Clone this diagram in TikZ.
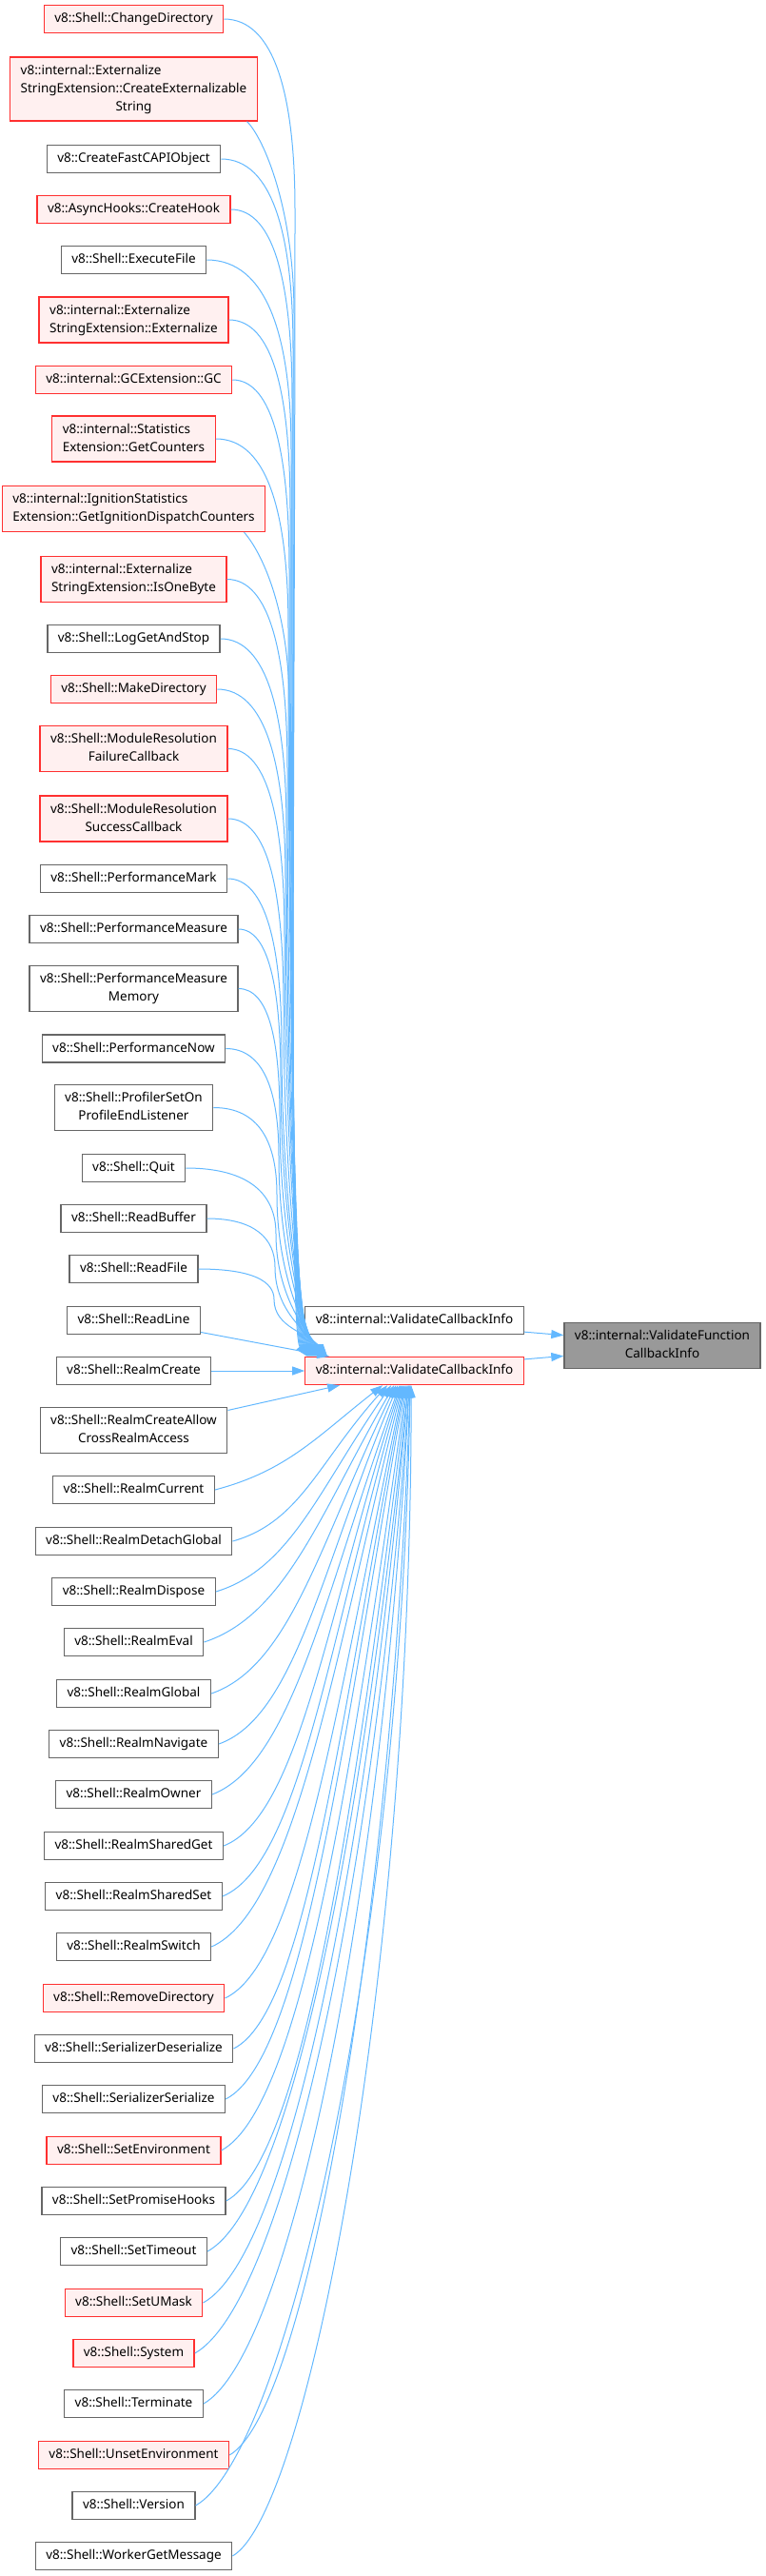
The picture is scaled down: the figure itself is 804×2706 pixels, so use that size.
\documentclass[tikz,border=0pt]{standalone}
\usepackage{fontspec}
\setmainfont{Noto Sans}
\usetikzlibrary{arrows.meta,calc}
\definecolor{edgeblue}{RGB}{99,184,255}
\definecolor{trunc}{RGB}{255,48,48}
\definecolor{truncfill}{RGB}{255,240,240}
\definecolor{bordergray}{RGB}{102,102,102}
\definecolor{curgray}{RGB}{153,153,153}
\newcommand{\twoln}[2]{\begin{tabular}{@{}l@{}}#1\\\multicolumn{1}{@{}c@{}}{#2}\end{tabular}}
\newcommand{\threeln}[3]{\begin{tabular}{@{}l@{}}#1\\#2\\\multicolumn{1}{@{}c@{}}{#3}\end{tabular}}
\begin{document}
\begin{tikzpicture}[x=1pt,y=-1pt,
  box/.style={draw=bordergray, fill=white, line width=1.3pt, inner xsep=11pt, inner ysep=5pt,
    font=\fontsize{13.5}{19}\selectfont, text=black},
  tbox/.style={box, draw=trunc, fill=truncfill},
  cbox/.style={box, fill=curgray},
  edge/.style={draw=edgeblue, line width=1pt, -{Triangle[length=13pt,width=9pt]}}]
\useasboundingbox (0,0) rectangle (804,2706);

\node[tbox] (n1) at (140.5,20) {\strut v8::Shell::ChangeDirectory};
\node[tbox] (n2) at (140.5,93.5) {\threeln{v8::internal::Externalize}{StringExtension::CreateExternalizable}{String}};
\node[box]  (n3) at (140.5,167) {\strut v8::CreateFastCAPIObject};
\node[tbox] (n4) at (140.5,220) {\strut v8::AsyncHooks::CreateHook};
\node[box]  (n5) at (140.5,273) {\strut v8::Shell::ExecuteFile};
\node[tbox] (n6) at (140.5,336) {\twoln{v8::internal::Externalize}{StringExtension::Externalize}};
\node[tbox] (n7) at (140.5,399) {\strut v8::internal::GCExtension::GC};
\node[tbox] (n8) at (140.5,461) {\twoln{v8::internal::Statistics}{Extension::GetCounters}};
\node[tbox] (n9) at (140.5,534.5) {\twoln{v8::internal::IgnitionStatistics}{Extension::GetIgnitionDispatchCounters}};
\node[tbox] (n10) at (140.5,608.5) {\twoln{v8::internal::Externalize}{StringExtension::IsOneByte}};
\node[box]  (n11) at (140.5,671) {\strut v8::Shell::LogGetAndStop};
\node[tbox] (n12) at (140.5,724) {\strut v8::Shell::MakeDirectory};
\node[tbox] (n13) at (140.5,786.5) {\twoln{v8::Shell::ModuleResolution}{FailureCallback}};
\node[tbox] (n14) at (140.5,860) {\twoln{v8::Shell::ModuleResolution}{SuccessCallback}};
\node[box]  (n15) at (140.5,923) {\strut v8::Shell::PerformanceMark};
\node[box]  (n16) at (140.5,976) {\strut v8::Shell::PerformanceMeasure};
\node[box]  (n17) at (140.5,1038.5) {\twoln{v8::Shell::PerformanceMeasure}{Memory}};
\node[box]  (n18) at (140.5,1101.5) {\strut v8::Shell::PerformanceNow};
\node[box]  (n19) at (140.5,1163.5) {\twoln{v8::Shell::ProfilerSetOn}{ProfileEndListener}};
\node[box]  (n20) at (140.5,1227) {\strut v8::Shell::Quit};
\node[box]  (n21) at (140.5,1280) {\strut v8::Shell::ReadBuffer};
\node[box]  (n22) at (140.5,1333) {\strut v8::Shell::ReadFile};
\node[box]  (n23) at (140.5,1387) {\strut v8::Shell::ReadLine};
\node[box]  (n24) at (140.5,1440) {\strut v8::Shell::RealmCreate};
\node[box]  (n25) at (140.5,1502.5) {\twoln{v8::Shell::RealmCreateAllow}{CrossRealmAccess}};
\node[box]  (n26) at (140.5,1565) {\strut v8::Shell::RealmCurrent};
\node[box]  (n27) at (140.5,1619) {\strut v8::Shell::RealmDetachGlobal};
\node[box]  (n28) at (140.5,1672) {\strut v8::Shell::RealmDispose};
\node[box]  (n29) at (140.5,1725) {\strut v8::Shell::RealmEval};
\node[box]  (n30) at (140.5,1779) {\strut v8::Shell::RealmGlobal};
\node[box]  (n31) at (140.5,1832) {\strut v8::Shell::RealmNavigate};
\node[box]  (n32) at (140.5,1885) {\strut v8::Shell::RealmOwner};
\node[box]  (n33) at (140.5,1939) {\strut v8::Shell::RealmSharedGet};
\node[box]  (n34) at (140.5,1992) {\strut v8::Shell::RealmSharedSet};
\node[box]  (n35) at (140.5,2045) {\strut v8::Shell::RealmSwitch};
\node[tbox] (n36) at (140.5,2099) {\strut v8::Shell::RemoveDirectory};
\node[box]  (n37) at (140.5,2152) {\strut v8::Shell::SerializerDeserialize};
\node[box]  (n38) at (140.5,2205) {\strut v8::Shell::SerializerSerialize};
\node[tbox] (n39) at (140.5,2259) {\strut v8::Shell::SetEnvironment};
\node[box]  (n40) at (140.5,2312) {\strut v8::Shell::SetPromiseHooks};
\node[box]  (n41) at (140.5,2365) {\strut v8::Shell::SetTimeout};
\node[tbox] (n42) at (140.5,2419) {\strut v8::Shell::SetUMask};
\node[tbox] (n43) at (140.5,2472) {\strut v8::Shell::System};
\node[box]  (n44) at (140.5,2525) {\strut v8::Shell::Terminate};
\node[tbox] (n45) at (140.5,2579) {\strut v8::Shell::UnsetEnvironment};
\node[box]  (n46) at (140.5,2632) {\strut v8::Shell::Version};
\node[box]  (n47) at (140.5,2685) {\strut v8::Shell::WorkerGetMessage};

\node[box]  (vcw) at (435.5,1387) {\strut v8::internal::ValidateCallbackInfo};
\node[tbox] (vci) at (435.5,1440) {\strut v8::internal::ValidateCallbackInfo};
\node[cbox] (vfci) at (696,1413.5) {\twoln{v8::internal::ValidateFunction}{CallbackInfo}};

% callers above the target
\foreach \n/\xv/\ym/\ka/\kb/\dx in {
  n1/310/220/53/120/3, n3/308/367/54/120/5, n4/307/420/46/120/6, n5/306/473/63/120/7,
  n6/305/536/47/120/8, n7/304/599/43/120/9, n8/303/661/55/120/10, n10/302/808/45/120/12,
  n11/301/871/49/120/13, n12/300/924/51/120/14, n13/299/986/43/120/15, n14/298/1058/43/119/16,
  n15/296/1099/40/105/17, n16/295/1133/32/94/18, n17/294/1174/32/81/19, n18/293/1215/40/68/20,
  n19/291/1255/48/55/21, n20/290/1296/67/41/22, n21/289/1331/50/30/23, n22/288/1365/57/19/24}
  \draw[edge] (\n.east) .. controls +(\ka,0) and +(0,-\kb) .. (\xv,\ym)
    .. controls +(0,{0.5*(1425-\ym)}) and +(-20,-25) .. ($(vci.north west)+(\dx,0)$);
\draw[edge] (n2.-16) .. controls +(18,18) and +(0,-110) .. (309,330)
    .. controls +(0,547) and +(-20,-25) .. ($(vci.north west)+(4,0)$);
\draw[edge] (n9.-12) .. controls +(18,20) and +(0,-100) .. (304,740)
    .. controls +(0,342) and +(-20,-25) .. ($(vci.north west)+(11,0)$);

% nearly level callers
\draw[edge] (n23.-10) -- ($(vci.north west)+(26,0)$);
\draw[edge] (n24.east) -- (vci.west);
\draw[edge] (n25.12) -- ($(vci.south west)+(37,0)$);

% callers below the target
\foreach \n/\dx/\a/\b/\d/\ang in {
  n26/82/76/20/54/38, n27/87/71/20/81/48, n28/91/79/24/108/55, n29/94/86/28/134/60,
  n30/96/84/29/161/64, n31/98/81/29/188/67, n32/100/85/33/214/70, n33/101/80/32/241/72,
  n34/102/81/34/268/74, n35/103/87/39/294/76, n36/104/80/37/321/78, n37/105/77/38/348/79,
  n38/106/81/41/374/80, n39/107/84/45/401/82, n40/108/82/44/428/83, n41/109/90/50/454/84,
  n42/109/92/51/481/85, n43/110/96/55/508/86, n44/110/92/53/534/87, n45/111/82/47/561/88,
  n46/111/96/55/588/89, n47/112/80/46/614/90}
  \draw[edge] (\n.east) .. controls +(\a,-\b) and +({-\d*cot(\ang)},\d) .. ($(vci.south west)+(\dx,0)$);

% to the function itself
\draw[edge] (vcw.-6) -- (vfci.174);
\draw[edge] (vci.6) -- (vfci.186);
\end{tikzpicture}
\end{document}
